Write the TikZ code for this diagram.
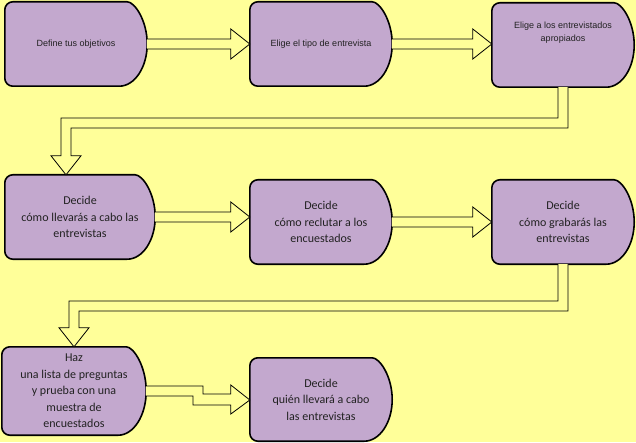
\documentclass[tikz,border=0pt]{standalone}
\usepackage{fontspec}
\setmainfont{Carlito}
\newfontfamily\arialfont{Liberation Sans}
\usetikzlibrary{calc}
\pgfdeclarelayer{bg}
\pgfsetlayers{bg,main}
\definecolor{paper}{HTML}{FFFF99}
\definecolor{lilac}{HTML}{C3A8CE}
\definecolor{ink}{HTML}{222222}
\tikzset{
  dbox/.style={minimum width=142pt, minimum height=84pt, inner sep=0pt, align=center, text=ink,
    font=\fontsize{12}{16.5}\selectfont},
  small/.style={font=\arialfont\fontsize{9}{12.5}\selectfont},
  boxline/.style={draw=black, line width=1.6pt, fill=lilac},
  hollow/.style={draw=black, line width=0.8pt, fill=paper, line join=miter}
}
% delay shape drawn behind a node
\newcommand\delayshape[1]{%
  \begin{pgfonlayer}{bg}
  \draw[boxline] let \p1=(#1.north west), \p2=(#1.south east) in
    (\x2-28pt,\y1) arc(90:-90:28pt and {(\y1-\y2)/2})
    [rounded corners=8pt] -- (\x1,\y2) -- (\x1,\y1) -- cycle;
  \end{pgfonlayer}}
% straight hollow arrow
\newcommand\harrow[2]{%
  \draw[hollow] let \p1=(#1.east), \p2=(#2.west) in
    (\x1,\y1+5pt) -- (\x2-19pt,\y1+5pt) -- (\x2-19pt,\y1+15pt) -- (\x2,\y1)
    -- (\x2-19pt,\y1-15pt) -- (\x2-19pt,\y1-5pt) -- (\x1,\y1-5pt);}
% elbow hollow arrow: from #1 down to level #3, left to x #4, down to #2
\newcommand\earrow[4]{%
  \draw[hollow] let \p1=(#1.south), \p2=(#2.north) in
    (\x1+5pt,\y1) -- (\x1+5pt,#3pt-5pt) -- (#4pt+5pt,#3pt-5pt) -- (#4pt+5pt,\y2+19pt)
    -- (#4pt+15pt,\y2+19pt) -- (#4pt,\y2) -- (#4pt-15pt,\y2+19pt) -- (#4pt-5pt,\y2+19pt)
    -- (#4pt-5pt,#3pt+5pt) -- (\x1-5pt,#3pt+5pt) -- (\x1-5pt,\y1);}

\begin{document}
\begin{tikzpicture}[x=1pt,y=1pt]
  \begin{pgfonlayer}{bg}
    \fill[paper] (0,0) rectangle (636,442);
  \end{pgfonlayer}
  \useasboundingbox (0,0) rectangle (636,442);

  \node (objetivos) [dbox, small] at (76,398) {Define tus objetivos};
  \node (tipo) [dbox, small] at (321,398) {Elige el tipo de entrevista};
  \node (entrevistados) [dbox, small] at (563,397) {Elige a los entrevistados\\apropiados\\[14pt]};
  \node (llevar) [dbox, minimum width=150pt] at (80,225) {Decide\\cómo llevarás a cabo las\\entrevistas};
  \node (reclutar) [dbox] at (321,220) {Decide\\cómo reclutar a los\\encuestados};
  \node (grabar) [dbox] at (563,220) {Decide\\cómo grabarás las\\entrevistas};
  \node (lista) [dbox, minimum width=144pt, minimum height=88pt] at (74,51)
    {Haz\\una lista de preguntas\\y prueba con una\\muestra de\\encuestados};
  \node (quien) [dbox, minimum height=83pt] at (321,42.5) {Decide\\quién llevará a cabo\\las entrevistas};

  \delayshape{objetivos}
  \delayshape{tipo}
  \delayshape{entrevistados}
  \delayshape{llevar}
  \delayshape{reclutar}
  \delayshape{grabar}
  \delayshape{lista}
  \delayshape{quien}

  \harrow{objetivos}{tipo}
  \harrow{tipo}{entrevistados}
  \earrow{entrevistados}{llevar}{319}{66}
  \harrow{llevar}{reclutar}
  \harrow{reclutar}{grabar}
  \earrow{grabar}{lista}{136}{74}
  \draw[hollow] let \p1=(lista.east), \p2=(quien.west) in
    (\x1,56) -- (203,56) -- (203,48) -- (\x2-19pt,48) -- (\x2-19pt,57) -- (\x2,42)
    -- (\x2-19pt,28) -- (\x2-19pt,37) -- (193,37) -- (193,46) -- (\x1,46);
\end{tikzpicture}
\end{document}
